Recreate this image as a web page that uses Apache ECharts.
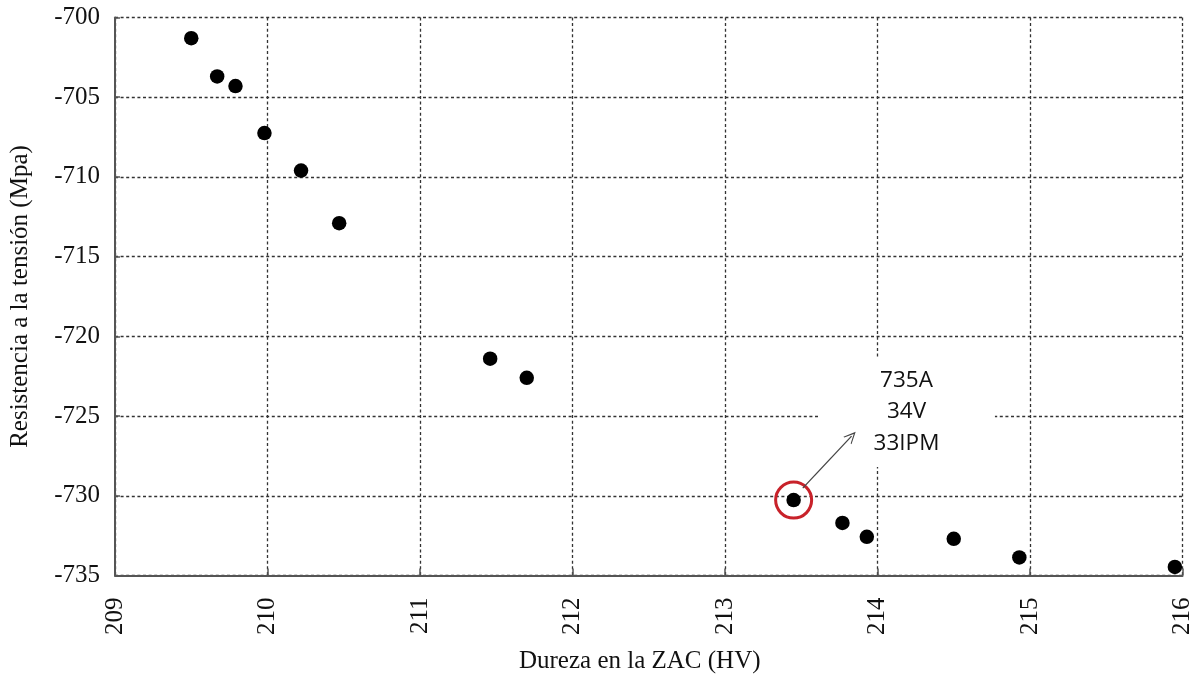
<!DOCTYPE html>
<html>
<head>
<meta charset="utf-8">
<script src="https://cdn.jsdelivr.net/npm/echarts@6/dist/echarts.min.js"></script>
<style>html,body{margin:0;padding:0;background:#fff;}#c{width:1195px;height:679px;}</style>
</head>
<body>
<div id="c"></div>
<script>
// Data
var hardness = [209.50, 209.67, 209.79, 209.98, 210.22, 210.47, 211.46, 211.70, 213.45, 213.77, 213.93, 214.50, 214.93, 215.95];
var tensile  = [-701.3, -703.7, -704.3, -707.25, -709.6, -712.9, -721.4, -722.6, -730.27, -731.7, -732.57, -732.7, -733.87, -734.46];
var highlightIndex = 8;
var annotationText = ['735A', '34V', '33IPM'];
var annotationPos = [214.19, -724.75];
var annotationBox = [[213.62, -721.3], [214.77, -728.2]];
var arrowFrom = [213.51, -729.52];
var arrowTo = [213.83, -726.26];
var xTicks = {min: 209, max: 216, interval: 1};
var yTicks = {min: -735, max: -700, interval: 5};

var points = hardness.map(function (h, i) { return [h, tensile[i]]; });
var serif = '"Liberation Serif", "DejaVu Serif", serif';
var axisColor = '#555';
var gridLine = {show: true, lineStyle: {color: '#333', width: 1.3, type: [3, 2.6]}};

var chart = echarts.init(document.getElementById('c'));
chart.setOption({
  animation: false,
  backgroundColor: '#fff',
  grid: {left: 114, right: 12, top: 17.5, bottom: 103.5},
  xAxis: {
    type: 'value', min: xTicks.min, max: xTicks.max, interval: xTicks.interval,
    name: 'Dureza en la ZAC (HV)', nameLocation: 'middle', nameGap: 73,
    nameTextStyle: {fontFamily: serif, fontSize: 25, color: '#111', padding: [0, 18, 0, 0]},
    axisLine: {show: true, onZero: false, lineStyle: {color: axisColor, width: 2}},
    axisTick: {show: true, inside: true, length: 7, lineStyle: {color: axisColor, width: 1.5}},
    axisLabel: {rotate: 90, margin: 22, fontFamily: serif, fontSize: 25, color: '#111'},
    splitLine: gridLine
  },
  yAxis: {
    type: 'value', min: yTicks.min, max: yTicks.max, interval: yTicks.interval,
    name: 'Resistencia a la tensión (Mpa)', nameLocation: 'middle', nameGap: 82,
    nameTextStyle: {fontFamily: serif, fontSize: 25, color: '#111'},
    axisLine: {show: true, onZero: false, lineStyle: {color: axisColor, width: 2}},
    axisTick: {show: true, inside: true, length: 5, lineStyle: {color: axisColor, width: 1.5}},
    axisLabel: {margin: 15, fontFamily: serif, fontSize: 25, color: '#111'},
    splitLine: gridLine
  },
  series: [
    {
      type: 'scatter', name: 'box', silent: true, z: 1,
      data: [],
      markArea: {silent: true, itemStyle: {color: '#fff', opacity: 1}, data: [[{coord: annotationBox[0]}, {coord: annotationBox[1]}]]},
      markLine: {
        silent: true, symbol: ['none', 'path://M0,10L5,0L10,10L9,10L5,2.4L1,10Z'], symbolSize: [11, 12],
        lineStyle: {color: '#444', width: 1.3, type: 'solid', opacity: 1}, label: {show: false},
        data: [[{coord: arrowFrom}, {coord: arrowTo}]]
      }
    },
    {
      type: 'scatter', name: 'data', symbol: 'circle', symbolSize: 14.5, z: 3,
      itemStyle: {color: '#000', opacity: 1},
      data: points
    },
    {
      type: 'scatter', name: 'highlight', symbol: 'circle', symbolSize: 36, z: 4,
      itemStyle: {color: 'rgba(0,0,0,0)', borderColor: '#c8222a', borderWidth: 3, opacity: 1},
      data: [points[highlightIndex]]
    },
    {
      type: 'scatter', name: 'label', symbolSize: 1, z: 5, silent: true,
      itemStyle: {color: 'rgba(255,255,255,0)', opacity: 1},
      data: [annotationPos],
      label: {
        show: true, position: 'inside', formatter: annotationText.join('\n'),
        fontFamily: '"Open Sans", "Noto Sans", sans-serif', fontSize: 22.5, lineHeight: 31.5,
        color: '#111', opacity: 1, align: 'center', verticalAlign: 'middle'
      }
    }
  ]
});
</script>
</body>
</html>
